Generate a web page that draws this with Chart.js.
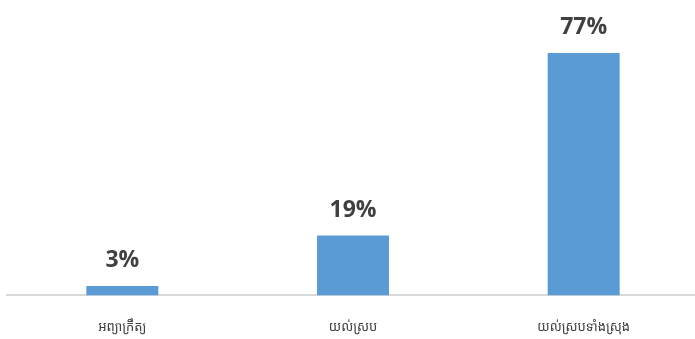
<!DOCTYPE html>
<html>
<head>
<meta charset="utf-8">
<script src="https://cdn.jsdelivr.net/npm/chart.js@4/dist/chart.umd.min.js"></script>
<style>
  html, body { margin: 0; padding: 0; background: #ffffff; overflow: hidden; }
  #wrap { position: absolute; left: 0; top: 0; width: 700px; height: 367px; }
</style>
</head>
<body>
<div id="wrap"><canvas id="chart"></canvas></div>
<script>
// Survey response categories and their shares (percent)
const categories = ['អព្យាក្រឹត្យ', 'យល់ស្រប', 'យល់ស្របទាំងស្រុង'];
const shares = [3, 19, 77];

// Writes the percentage above each bar
const valueLabels = {
  id: 'valueLabels',
  afterDatasetsDraw(chart) {
    const ctx = chart.ctx;
    const meta = chart.getDatasetMeta(0);
    ctx.save();
    ctx.font = 'bold 23px "Open Sans", "Liberation Sans", sans-serif';
    ctx.fillStyle = '#404040';
    ctx.textAlign = 'center';
    ctx.textBaseline = 'alphabetic';
    meta.data.forEach((bar, i) => {
      ctx.fillText(shares[i] + '%', bar.x, bar.y - 19);
    });
    ctx.restore();
  }
};

new Chart(document.getElementById('chart'), {
  type: 'bar',
  data: {
    labels: categories,
    datasets: [{
      data: shares,
      backgroundColor: '#5B9BD5',
      borderWidth: 0,
      barPercentage: 1,
      categoryPercentage: 0.312
    }]
  },
  options: {
    responsive: true,
    maintainAspectRatio: false,
    animation: false,
    layout: { padding: { left: 7, right: 1, top: 12, bottom: 8 } },
    plugins: { legend: { display: false }, tooltip: { enabled: false } },
    scales: {
      x: {
        grid: { display: false, drawTicks: false },
        border: { color: '#D9D9D9', width: 2 },
        ticks: {
          color: '#404040',
          padding: 24,
          font: { size: 13, family: '"Noto Sans Khmer", "Khmer OS", sans-serif' }
        }
      },
      y: {
        display: false,
        min: 0,
        max: 90
      }
    }
  },
  plugins: [valueLabels]
});
</script>
</body>
</html>
